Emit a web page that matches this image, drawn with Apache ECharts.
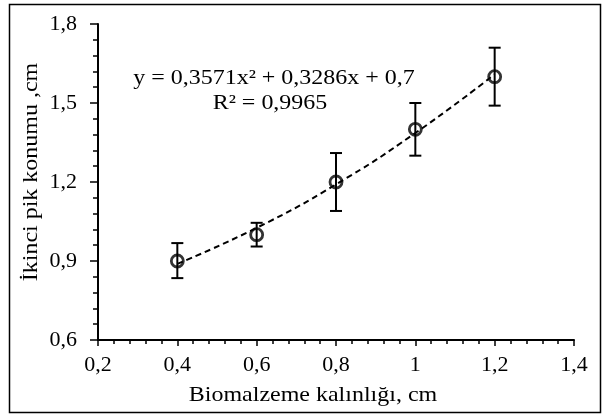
<!DOCTYPE html>
<html>
<head>
<meta charset="utf-8">
<script src="https://cdn.jsdelivr.net/npm/echarts@6/dist/echarts.min.js"></script>
<style>
  html, body { margin: 0; padding: 0; background: #fff; }
  #chart { width: 602px; height: 415px; }
</style>
</head>
<body>
<div id="chart"></div>
<script>
// measured points (thickness vs second peak position)
const thickness = [0.4, 0.6, 0.8, 1.0, 1.2];
const peakPos = [0.9, 1.0, 1.2, 1.4, 1.6];
const errLow = [0.835, 0.955, 1.09, 1.30, 1.49];
const errHigh = [0.968, 1.045, 1.31, 1.50, 1.71];

// dashed trend curve
const trendX = [0.4, 0.6, 0.8, 1.0, 1.2];
const trendY = [0.889, 1.026, 1.191, 1.386, 1.609];

const xTicks = { min: 0.2, max: 1.4, step: 0.2 };
const yTicks = { min: 0.6, max: 1.8, step: 0.3 };

const equation = 'y = 0,3571x² + 0,3286x + 0,7';
const rSquared = 'R² = 0,9965';
const xName = 'Biomalzeme kalınlığı, cm';
const yName = 'İkinci pik konumu ,cm';

const font = '"Liberation Serif", "Times New Roman", serif';
const fontSize = 22;
const stretch = 1.09; // the original picture is a bit wider than tall

let chart = echarts.init(document.getElementById('chart'), null, { renderer: 'canvas' });

function axisBase(len, minorLen) {
    return {
        splitLine: { show: false },
        axisLine: { lineStyle: { color: '#000', width: 2 } },
        axisTick: { inside: false, length: len, lineStyle: { color: '#000', width: 1.5 } },
        minorTick: { show: true, splitNumber: 5, length: minorLen, lineStyle: { color: '#000', width: 1.5 } },
        axisLabel: { color: '#000', fontFamily: font, fontSize: fontSize }
    };
}

let xAxis = axisBase(6, 4);
xAxis.type = 'value';
xAxis.min = xTicks.min;
xAxis.max = xTicks.max;
xAxis.interval = xTicks.step;
xAxis.axisLabel.margin = 14;
xAxis.axisLabel.formatter = (v) => String(+v.toFixed(2)).replace('.', ',');

let yAxis = axisBase(8, 5);
yAxis.type = 'value';
yAxis.min = yTicks.min;
yAxis.max = yTicks.max;
yAxis.interval = yTicks.step;
yAxis.axisLabel.margin = 21;
yAxis.axisLabel.formatter = (v) => v.toFixed(1).replace('.', ',');

let errData = thickness.map((x, i) => [x, errLow[i], errHigh[i]]);

function label(text, x, y, rot) {
    return {
        type: 'text', x: x, y: y, rotation: rot || 0, scaleX: stretch,
        style: { text: text, font: fontSize + 'px ' + font, fill: '#000', textAlign: 'center', textVerticalAlign: 'middle' }
    };
}

chart.setOption({
    animation: false,
    backgroundColor: '#fff',
    grid: { left: 98, top: 24, right: 28, bottom: 75, containLabel: false },
    xAxis: xAxis,
    yAxis: yAxis,
    graphic: [
        {
            type: 'rect',
            shape: { x: 9.5, y: 4.5, width: 591, height: 408 },
            style: { fill: 'none', stroke: '#000', lineWidth: 1.5 },
            silent: true
        },
        label(equation, 274, 78),
        label(rSquared, 270, 103),
        label(xName, 313, 395),
        label(yName, 31, 172, Math.PI / 2)
    ],
    series: [
        {
            type: 'line',
            data: trendX.map((x, i) => [x, trendY[i]]),
            smooth: true,
            symbol: 'none',
            lineStyle: { color: '#000', width: 2, type: [6, 4] },
            z: 1
        },
        {
            type: 'custom',
            data: errData,
            renderItem: function (params, api) {
                let top = api.coord([api.value(0), api.value(2)]);
                let bot = api.coord([api.value(0), api.value(1)]);
                let half = 6;
                let style = { stroke: '#000', lineWidth: 2 };
                return {
                    type: 'group',
                    children: [
                        { type: 'line', shape: { x1: top[0], y1: top[1], x2: bot[0], y2: bot[1] }, style: style },
                        { type: 'line', shape: { x1: top[0] - half, y1: top[1], x2: top[0] + half, y2: top[1] }, style: style },
                        { type: 'line', shape: { x1: bot[0] - half, y1: bot[1], x2: bot[0] + half, y2: bot[1] }, style: style }
                    ]
                };
            },
            z: 2
        },
        {
            type: 'scatter',
            data: thickness.map((x, i) => [x, peakPos[i]]),
            symbol: 'circle',
            symbolSize: 12,
            itemStyle: { color: 'transparent', borderColor: '#000', borderWidth: 2.8 },
            z: 3
        }
    ]
});
</script>
</body>
</html>
